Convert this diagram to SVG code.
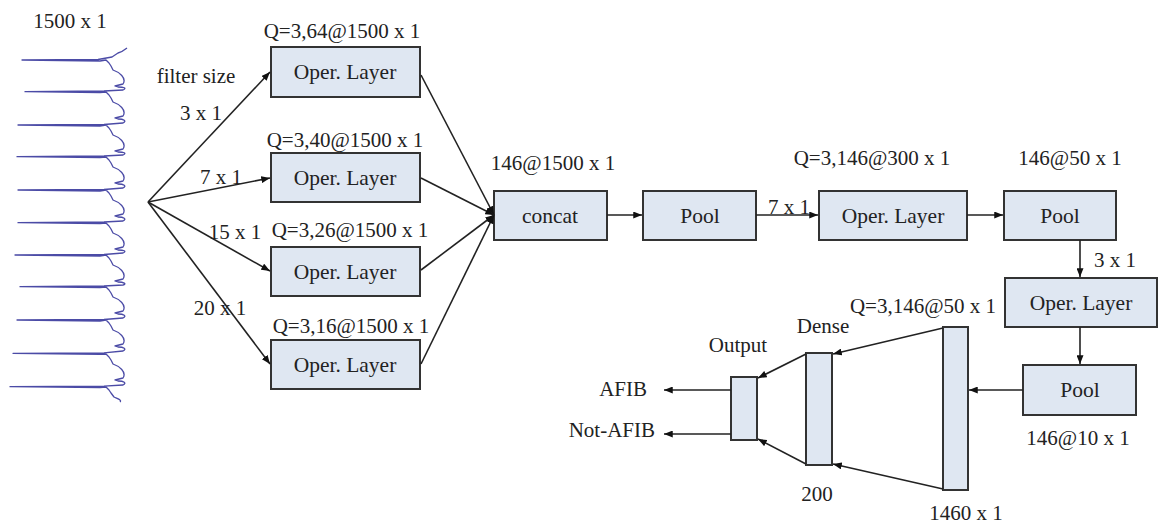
<svg xmlns="http://www.w3.org/2000/svg" width="1159" height="530" viewBox="0 0 1159 530" font-family="Liberation Serif, serif">
<style>
.c,.e,.bl{font-family:'Liberation Serif',serif;fill:#222}
.c{font-size:21px;text-anchor:middle}
.e{font-size:21px;text-anchor:end}
.bl{font-size:21.5px;text-anchor:middle}
.box{fill:#dfe7f2;stroke:#333;stroke-width:2}
.ln{stroke:#222;stroke-width:1.6;fill:none}
.ar{marker-end:url(#ah)}
.ecg{fill:none;stroke:#4b4ba6;stroke-width:1.3;stroke-linejoin:round}
</style>
<defs>
<marker id="ah" viewBox="0 0 10 8" refX="10" refY="4" markerWidth="9" markerHeight="7" markerUnits="userSpaceOnUse" orient="auto">
<path d="M0,0 L10,4 L0,8 Z" fill="#111"/>
</marker>
</defs>
<rect width="1159" height="530" fill="#fff"/>

<g id="input" font-family="Liberation Serif">
<text class="c" x="70" y="28">1500 x 1</text>
<path class="ecg" d="M127,48 Q122,52 118,53 L112,57 L98,59.5 L22,60 L100,61 L106,60 L109,63 L111,66 L113,70 C119,72 127,78 123,84 L115,86 L118,87 C124,87 127,88 123,90 L104,91 L25,91.7 L100,92.7 L106,92 L109,95 L111,98 L113,102 C119,104 127,110 123,116 L115,118 L118,119 C124,119 127,121 123,123 L104,124.5 L18,125 L100,126 L106,125 L109,128 L111,131 L113,135 C119,137 127,143 123,149 L115,151 L118,152 C124,152 127,153 123,155 L104,156 L17,156.7 L100,157.7 L106,157 L109,160 L111,163 L113,167 C119,169 127,175 123,181 L115,183 L118,184 C124,184 127,186 123,188 L104,189.5 L18,190 L100,191 L106,190 L109,193 L111,196 L113,200 C119,202 127,208 123,214 L115,216 L118,217 C124,217 127,219 123,221 L104,222 L18,222.7 L100,223.7 L106,223 L109,226 L111,229 L113,233 C119,235 127,241 123,247 L115,249 L118,250 C124,250 127,251 123,253 L104,254.5 L15,255 L100,256 L106,255 L109,258 L111,261 L113,265 C119,267 127,273 123,279 L115,281 L118,282 C124,282 127,284 123,285 L104,286 L20,286.7 L100,287.7 L106,287 L109,290 L111,293 L113,297 C119,299 127,305 123,311 L115,313 L118,314 C124,314 127,316 123,318 L104,319.5 L17,320 L100,321 L106,320 L109,323 L111,326 L113,330 C119,332 127,338 123,344 L115,346 L118,347 C124,347 127,349 123,351 L104,352.8 L13,353.3 L100,354.3 L106,354 L109,357 L111,360 L113,364 C119,366 127,372 123,378 L115,380 L118,381 C124,381 127,383 123,385 L104,386.2 L10,386.7 L100,387.7 L106,387 L109,390 L111,393 L114,397 C118,399 122,400 120,402"/>
</g>

<g id="labels-left" font-family="Liberation Serif">
<text class="c" x="196" y="83">filter size</text>
<text class="c" x="201" y="120">3 x 1</text>
<text class="c" x="221" y="184">7 x 1</text>
<text class="c" x="235" y="239">15 x 1</text>
<text class="c" x="220" y="315">20 x 1</text>
</g>

<g id="oper1" font-family="Liberation Serif">
<text class="c" x="342" y="38">Q=3,64@1500 x 1</text>
<rect class="box" x="271" y="47" width="149" height="50"/>
<text class="bl" x="345" y="79">Oper. Layer</text>
</g>
<g id="oper2" font-family="Liberation Serif">
<text class="c" x="345" y="147">Q=3,40@1500 x 1</text>
<rect class="box" x="271" y="153" width="149" height="49"/>
<text class="bl" x="345" y="185">Oper. Layer</text>
</g>
<g id="oper3" font-family="Liberation Serif">
<text class="c" x="350" y="237">Q=3,26@1500 x 1</text>
<rect class="box" x="271" y="247" width="149" height="49"/>
<text class="bl" x="345" y="279">Oper. Layer</text>
</g>
<g id="oper4" font-family="Liberation Serif">
<text class="c" x="351" y="333">Q=3,16@1500 x 1</text>
<rect class="box" x="271" y="340" width="149" height="49"/>
<text class="bl" x="345" y="372">Oper. Layer</text>
</g>

<g id="concat" font-family="Liberation Serif">
<text class="c" x="553" y="170">146@1500 x 1</text>
<rect class="box" x="494" y="191" width="113" height="49"/>
<text class="bl" x="550" y="223">concat</text>
</g>
<g id="pool1" font-family="Liberation Serif">
<rect class="box" x="643" y="191" width="113" height="49"/>
<text class="bl" x="700" y="223">Pool</text>
</g>
<g id="oper5" font-family="Liberation Serif">
<text class="c" x="872" y="165">Q=3,146@300 x 1</text>
<rect class="box" x="819" y="191" width="148" height="49"/>
<text class="bl" x="893" y="223">Oper. Layer</text>
</g>
<g id="pool2" font-family="Liberation Serif">
<text class="c" x="1070" y="165">146@50 x 1</text>
<rect class="box" x="1004" y="191" width="112" height="49"/>
<text class="bl" x="1060" y="223">Pool</text>
</g>
<g id="oper6" font-family="Liberation Serif">
<rect class="box" x="1005" y="278" width="152" height="49"/>
<text class="bl" x="1081" y="310">Oper. Layer</text>
</g>
<g id="pool3" font-family="Liberation Serif">
<rect class="box" x="1023" y="365" width="113" height="50"/>
<text class="bl" x="1080" y="397">Pool</text>
<text class="c" x="1078" y="445">146@10 x 1</text>
</g>
<g id="flatten" font-family="Liberation Serif">
<text class="c" x="923" y="313">Q=3,146@50 x 1</text>
<rect class="box" x="943" y="327" width="25" height="163"/>
<text class="c" x="966" y="520">1460 x 1</text>
</g>
<g id="dense" font-family="Liberation Serif">
<text class="c" x="823" y="333">Dense</text>
<rect class="box" x="806" y="353" width="26" height="112"/>
<text class="c" x="817" y="501">200</text>
</g>
<g id="output" font-family="Liberation Serif">
<text class="c" x="738" y="352">Output</text>
<rect class="box" x="731" y="377" width="26" height="63"/>
<text class="e" x="647" y="396">AFIB</text>
<text class="e" x="655" y="437">Not-AFIB</text>
</g>

<g id="connectors" font-family="Liberation Serif">
<line class="ln ar" x1="148" y1="202" x2="270" y2="72"/>
<line class="ln ar" x1="148" y1="202" x2="270" y2="178"/>
<line class="ln ar" x1="148" y1="202" x2="270" y2="271"/>
<line class="ln ar" x1="148" y1="202" x2="270" y2="364"/>
<line class="ln ar" x1="421" y1="75" x2="494" y2="215"/>
<line class="ln ar" x1="421" y1="178" x2="494" y2="215"/>
<line class="ln ar" x1="421" y1="270" x2="494" y2="215"/>
<line class="ln ar" x1="421" y1="364" x2="494" y2="215"/>
<line class="ln ar" x1="607" y1="215" x2="642" y2="215"/>
<line class="ln ar" x1="756" y1="215" x2="818" y2="215"/>
<text class="c" x="789" y="214">7 x 1</text>
<line class="ln ar" x1="967" y1="215" x2="1003" y2="215"/>
<line class="ln ar" x1="1080" y1="240" x2="1080" y2="277"/>
<text class="c" x="1115" y="267">3 x 1</text>
<line class="ln ar" x1="1080" y1="327" x2="1080" y2="364"/>
<line class="ln ar" x1="1023" y1="390" x2="969" y2="390"/>
<line class="ln ar" x1="943" y1="328" x2="833" y2="354"/>
<line class="ln ar" x1="943" y1="489" x2="833" y2="464"/>
<line class="ln ar" x1="806" y1="354" x2="758" y2="378"/>
<line class="ln ar" x1="806" y1="464" x2="758" y2="439"/>
<line class="ln ar" x1="731" y1="390" x2="664" y2="390"/>
<line class="ln ar" x1="731" y1="434" x2="664" y2="434"/>
</g>
</svg>
